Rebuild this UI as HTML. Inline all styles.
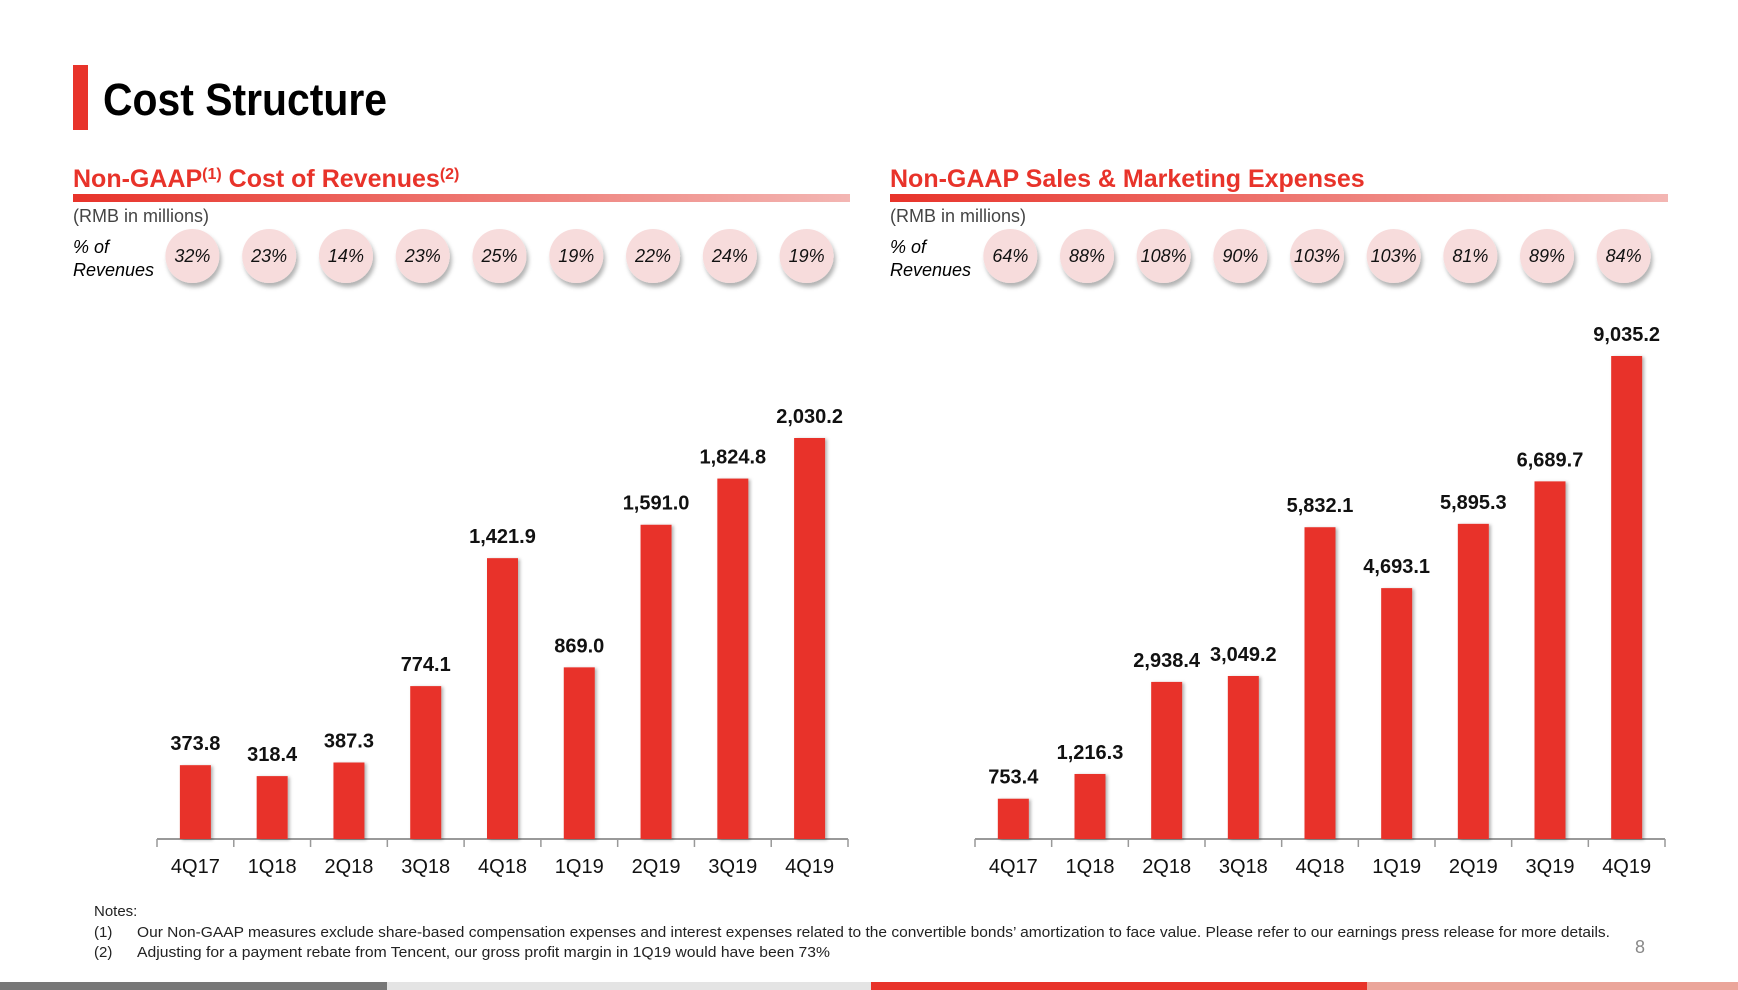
<!DOCTYPE html>
<html><head><meta charset="utf-8"><style>
html,body{margin:0;padding:0;background:#fff;}
svg{display:block;font-family:"Liberation Sans Narrow","Liberation Sans",sans-serif;}
</style></head><body>
<svg id="page" width="1738" height="990" viewBox="0 0 1738 990">
<defs>
<linearGradient id="grad" x1="0" x2="1"><stop offset="0" stop-color="#e8332a"/><stop offset="1" stop-color="#f3b6b3"/></linearGradient>
<filter id="sh" x="-30%" y="-30%" width="160%" height="170%"><feDropShadow dx="2" dy="4" stdDeviation="2" flood-color="#000" flood-opacity="0.3"/></filter>
<filter id="bsh" x="-30%" y="-5%" width="160%" height="110%"><feDropShadow dx="2" dy="1" stdDeviation="1.5" flood-color="#000" flood-opacity="0.3"/></filter>
</defs>
<rect x="73" y="65" width="15" height="65" fill="#e8332a"/>
<text x="103" y="115" font-size="45" font-weight="bold" fill="#000" textLength="284" lengthAdjust="spacingAndGlyphs">Cost Structure</text>

<g id="left">
<text x="73" y="187" font-size="25" font-weight="bold" fill="#e8332a">Non-GAAP<tspan font-size="16" dy="-8">(1)</tspan><tspan dy="8"> Cost of Revenues</tspan><tspan font-size="16" dy="-8">(2)</tspan></text>
<rect x="73" y="194" width="777" height="8" fill="url(#grad)"/>
<text x="73" y="222" font-size="18" fill="#444">(RMB in millions)</text>
<text x="73" y="253" font-size="18" font-style="italic" fill="#000">% of</text>
<text x="73" y="276" font-size="18" font-style="italic" fill="#000">Revenues</text>
</g>
<g id="right">
<text x="890" y="187" font-size="25" font-weight="bold" fill="#e8332a">Non-GAAP Sales &amp; Marketing Expenses</text>
<rect x="890" y="194" width="778" height="8" fill="url(#grad)"/>
<text x="890" y="222" font-size="18" fill="#444">(RMB in millions)</text>
<text x="890" y="253" font-size="18" font-style="italic" fill="#000">% of</text>
<text x="890" y="276" font-size="18" font-style="italic" fill="#000">Revenues</text>
</g>

<text x="94" y="916" font-size="15" fill="#222">Notes:</text>
<text x="94" y="937" font-size="15" fill="#222">(1)</text>
<text x="137" y="937" font-size="15" fill="#222" textLength="1473" lengthAdjust="spacingAndGlyphs">Our Non-GAAP measures exclude share-based compensation expenses and interest expenses related to the convertible bonds’ amortization to face value. Please refer to our earnings press release for more details.</text>
<text x="94" y="957" font-size="15" fill="#222">(2)</text>
<text x="137" y="957" font-size="15" fill="#222" textLength="693" lengthAdjust="spacingAndGlyphs">Adjusting for a payment rebate from Tencent, our gross profit margin in 1Q19 would have been 73%</text>
<text x="1635" y="953" font-size="18" fill="#888">8</text>
<rect x="0" y="982" width="387" height="8" fill="#777"/>
<rect x="387" y="982" width="484" height="8" fill="#e4e4e4"/>
<rect x="871" y="982" width="496" height="8" fill="#e8332a"/>
<rect x="1367" y="982" width="371" height="8" fill="#eba59a"/>
</svg>
<script>
const categories = ["4Q17","1Q18","2Q18","3Q18","4Q18","1Q19","2Q19","3Q19","4Q19"];
const costValues = [373.8,318.4,387.3,774.1,1421.9,869.0,1591.0,1824.8,2030.2];
const costPct = ["32%","23%","14%","23%","25%","19%","22%","24%","19%"];
const smValues = [753.4,1216.3,2938.4,3049.2,5832.1,4693.1,5895.3,6689.7,9035.2];
const smPct = ["64%","88%","108%","90%","103%","103%","81%","89%","84%"];

const NS = "http://www.w3.org/2000/svg";
function mk(tag, attrs, parent){const e=document.createElementNS(NS,tag);for(const k in attrs)e.setAttribute(k,attrs[k]);parent.appendChild(e);return e;}
function fmt(v){return v.toLocaleString("en-US",{minimumFractionDigits:1,maximumFractionDigits:1});}

function drawChart(g, prefix, values, pcts, axisX0, axisX1, axisY, yMax, hMax){
  const n = categories.length;
  const step = (axisX1-axisX0)/n;
  const xC = i => axisX0 + step*(i+0.5);
  const yS = v => axisY - v/yMax*hMax;
  const ax = mk("line",{x1:axisX0,x2:axisX1,y1:axisY,y2:axisY,stroke:"#999","stroke-width":2},g);
  
  
  for(let i=0;i<=n;i++){
    const t = mk("line",{x1:axisX0+step*i,x2:axisX0+step*i,y1:axisY,y2:axisY+8,stroke:"#999","stroke-width":1.5},g);
    
    
  }
  values.forEach((v,i)=>{
    const x = xC(i), y = yS(v);
    const b = mk("rect",{x:x-15.5,y:y,width:31,height:axisY-y,fill:"#e8332a",filter:"url(#bsh)"},g);
    
    
    const l = mk("text",{x:x,y:y-15,"text-anchor":"middle","font-size":20,"font-weight":"bold",fill:"#111"},g);
    l.textContent = fmt(v);
    
    
    const c = mk("text",{x:x,y:axisY+34,"text-anchor":"middle","font-size":20,fill:"#111"},g);
    c.textContent = categories[i];
    
    
    const cx = x-3, cy = 256;
    const circ = mk("circle",{cx:cx,cy:cy,r:27,fill:"#f7dcdc",filter:"url(#sh)"},g);
    
    
    const pt = mk("text",{x:cx,y:cy+6,"text-anchor":"middle","font-size":18,"font-style":"italic",fill:"#111"},g);
    pt.textContent = pcts[i];
    
    
  });
}
drawChart(document.getElementById("left"), "cost", costValues, costPct, 157, 848, 839, 2030.2, 401);
drawChart(document.getElementById("right"), "sm", smValues, smPct, 975, 1665, 839, 9035.2, 483);
</script>
</body></html>
